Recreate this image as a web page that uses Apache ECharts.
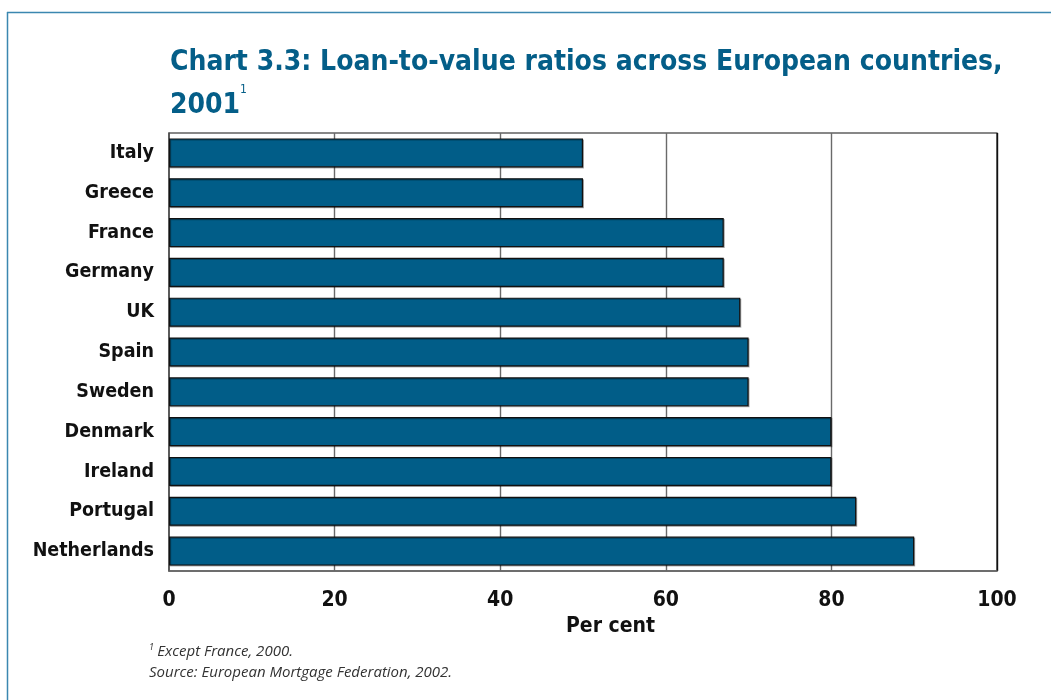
<!DOCTYPE html>
<html>
<head>
<meta charset="utf-8">
<script src="https://cdn.jsdelivr.net/npm/echarts@6/dist/echarts.min.js"></script>
<style>
  html, body { margin: 0; padding: 0; background: #fff; }
  #chart { width: 1051px; height: 700px; }
</style>
</head>
<body>
<div id="chart"></div>
<script>
// Loan-to-value ratios by country, per cent (2001; France 2000)
const countries = ['Italy', 'Greece', 'France', 'Germany', 'UK', 'Spain', 'Sweden', 'Denmark', 'Ireland', 'Portugal', 'Netherlands'];
const ltvRatios = [50, 50, 67, 67, 69, 70, 70, 80, 80, 83, 90];
const xTicks = [0, 20, 40, 60, 80, 100];

const HEAD_FONT = "'DejaVu Sans Condensed', Lato, sans-serif";
const LABEL_FONT = "'DejaVu Sans Condensed', Lato, sans-serif";
const NOTE_FONT = "'Open Sans', 'Noto Sans', sans-serif";
const BLUE = '#045e88';

const chart = echarts.init(document.getElementById('chart'), null, { renderer: 'canvas' });

chart.setOption({
  backgroundColor: '#ffffff',
  animation: false,
  title: {
    left: 165,
    top: 36,
    text: 'Chart 3.3: Loan-to-value ratios across European countries,\n2001{sup|1}',
    textStyle: {
      fontFamily: HEAD_FONT,
      fontSize: 28,
      fontWeight: 'bold',
      color: BLUE,
      lineHeight: 43,
      rich: {
        sup: {
          fontFamily: HEAD_FONT,
          fontSize: 12,
          fontWeight: 'normal',
          color: BLUE,
          verticalAlign: 'top',
          padding: [0, 0, 16, 0]
        }
      }
    }
  },
  grid: {
    left: 169,
    right: 54,
    top: 133,
    bottom: 129,
    show: true,
    borderColor: '#111',
    borderWidth: 1.2,
    backgroundColor: 'transparent'
  },
  xAxis: {
    type: 'value',
    min: 0,
    max: 100,
    interval: 20,
    axisLine: { show: true, lineStyle: { color: '#666', width: 1.5 } },
    axisTick: { show: false },
    splitLine: {
      show: true,
      lineStyle: { color: ['transparent', '#6a6a6a', '#6a6a6a', '#6a6a6a', '#6a6a6a', '#111'], width: 1.4 }
    },
    axisLabel: {
      margin: 19,
      fontFamily: LABEL_FONT,
      fontSize: 21,
      fontWeight: 'bold',
      color: '#111',
      formatter: function (v) { return xTicks.indexOf(v) >= 0 ? String(v) : ''; }
    }
  },
  yAxis: {
    type: 'category',
    data: countries,
    inverse: true,
    offset: 3,
    axisLine: { show: true, lineStyle: { color: '#555', width: 1.5 } },
    axisTick: { show: false },
    splitLine: { show: false },
    axisLabel: {
      margin: 12,
      fontFamily: LABEL_FONT,
      fontSize: 19.5,
      fontWeight: 'bold',
      color: '#111'
    }
  },
  series: [{
    type: 'bar',
    data: ltvRatios,
    barCategoryGap: '27%',
    itemStyle: {
      color: '#015d88',
      borderColor: '#111',
      borderWidth: 1.2,
      shadowColor: 'rgba(0,0,0,0.3)',
      shadowOffsetX: 1,
      shadowOffsetY: 1
    }
  }],
  graphic: [
    // page frame
    { type: 'line', shape: { x1: 7, y1: 12.5, x2: 1051, y2: 12.5 }, style: { stroke: '#3b87b0', lineWidth: 1.5 } },
    { type: 'line', shape: { x1: 7.5, y1: 12, x2: 7.5, y2: 700 }, style: { stroke: '#3b87b0', lineWidth: 1.5 } },
    // axis title
    {
      type: 'text', left: 566, top: 616,
      style: { text: 'Per cent', font: "bold 21px " + LABEL_FONT, fill: '#111' }
    },
    // notes
    {
      type: 'text', left: 149, top: 643,
      style: {
        text: '{s|1} {t|Except France, 2000.}',
        rich: {
          s: { font: "italic 9px " + NOTE_FONT, fill: '#333', verticalAlign: 'top', padding: [0, 0, 8, 0] },
          t: { font: "italic 15px " + NOTE_FONT, fill: '#333' }
        }
      }
    },
    {
      type: 'text', left: 149, top: 665,
      style: { text: 'Source: European Mortgage Federation, 2002.', font: "italic 15px " + NOTE_FONT, fill: '#333' }
    }
  ]
});
</script>
</body>
</html>
